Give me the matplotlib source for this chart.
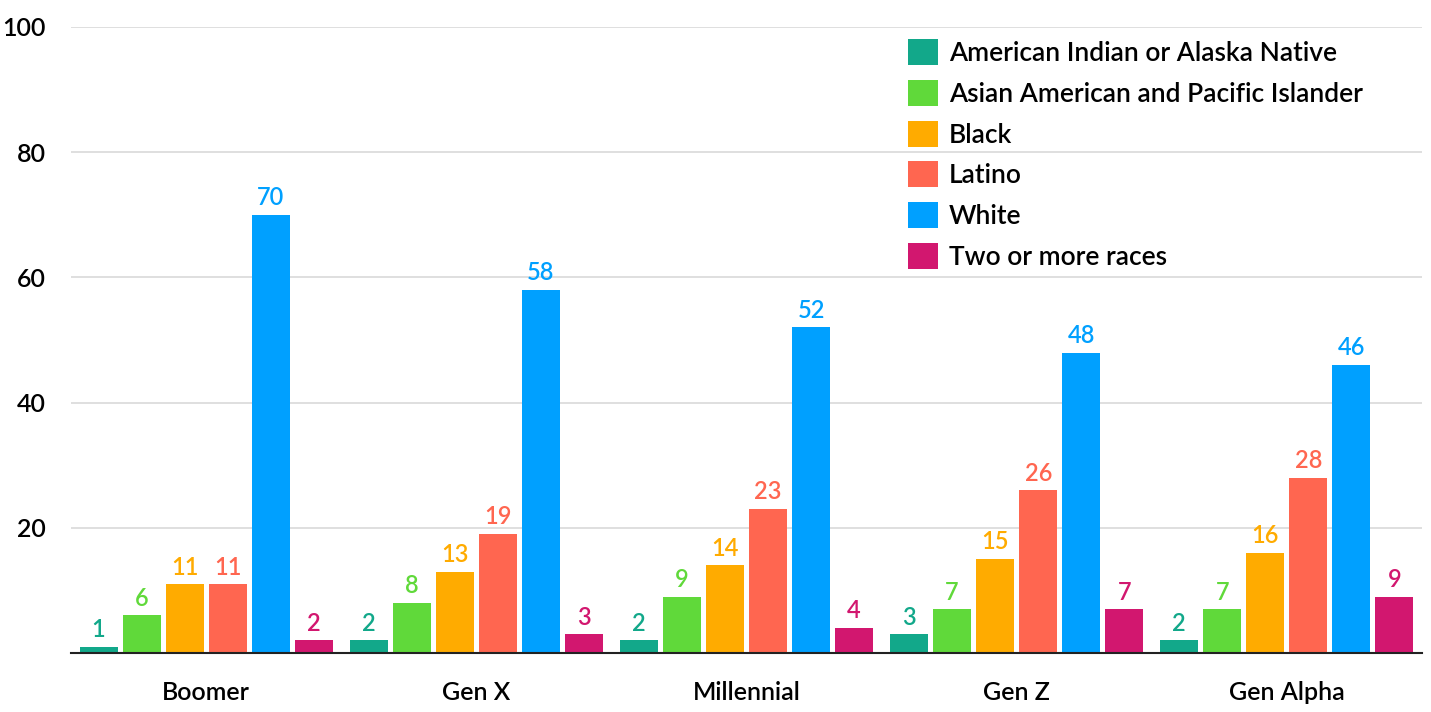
import matplotlib.pyplot as plt
import numpy as np

generations = ["Boomer", "Gen X", "Millennial", "Gen Z", "Gen Alpha"]
races = ["American Indian or Alaska Native", "Asian American and Pacific Islander",
         "Black", "Latino", "White", "Two or more races"]
aian   = [1, 2, 2, 3, 2]
aapi   = [6, 8, 9, 7, 7]
black  = [11, 13, 14, 15, 16]
latino = [11, 19, 23, 26, 28]
white  = [70, 58, 52, 48, 46]
multi  = [2, 3, 4, 7, 9]
colors = ["#12a88a", "#60d93a", "#ffab00", "#ff6650", "#00a0ff", "#d2176f"]

plt.rcParams['font.family'] = ['Lato', 'DejaVu Sans']
plt.rcParams['font.weight'] = 'semibold'

fig = plt.figure(figsize=(14.31, 7.12), dpi=100)
ax = fig.add_axes([71/1431, 1-653/712, 1351/1431, 626/712])

series = [aian, aapi, black, latino, white, multi]
x = np.arange(len(generations))
step = 43/270
width = 38/270
for i, vals in enumerate(series):
    pos = x + (i - 2.5) * step
    bars = ax.bar(pos, vals, width, color=colors[i], label=races[i], zorder=3)
    for b, v in zip(bars, vals):
        ax.text(b.get_x() + b.get_width()/2, v + 0.9, str(v), ha="center", va="bottom",
                color=colors[i], fontsize=17, fontweight="semibold")

ax.set_xlim(-0.5, 4.5)
ax.set_ylim(0, 100)
ax.set_yticks(np.arange(0, 101, 20))
ax.set_yticklabels(["", "20", "40", "60", "80", "100"])
ax.set_xticks(x)
ax.set_xticklabels(generations)
ax.tick_params(axis="both", length=0, labelsize=18)
ax.tick_params(axis="x", pad=20)
ax.tick_params(axis="y", pad=18)
ax.grid(axis="y", color="#d9d9d9", linewidth=1.2, zorder=0)
for s in ["top", "right", "left"]:
    ax.spines[s].set_visible(False)
ax.spines["bottom"].set_color("#222222")
ax.spines["bottom"].set_linewidth(1.5)
ax.spines["bottom"].set_zorder(4)

fig.legend(loc="upper left", bbox_to_anchor=(908/1431, 1-39/712), frameon=False,
           prop={"size": 19, "weight": "semibold"}, handlelength=1.15, handleheight=1.15,
           handletextpad=0.4, labelspacing=0.52, borderpad=0, borderaxespad=0)

fig.savefig("out.png", dpi=100)
